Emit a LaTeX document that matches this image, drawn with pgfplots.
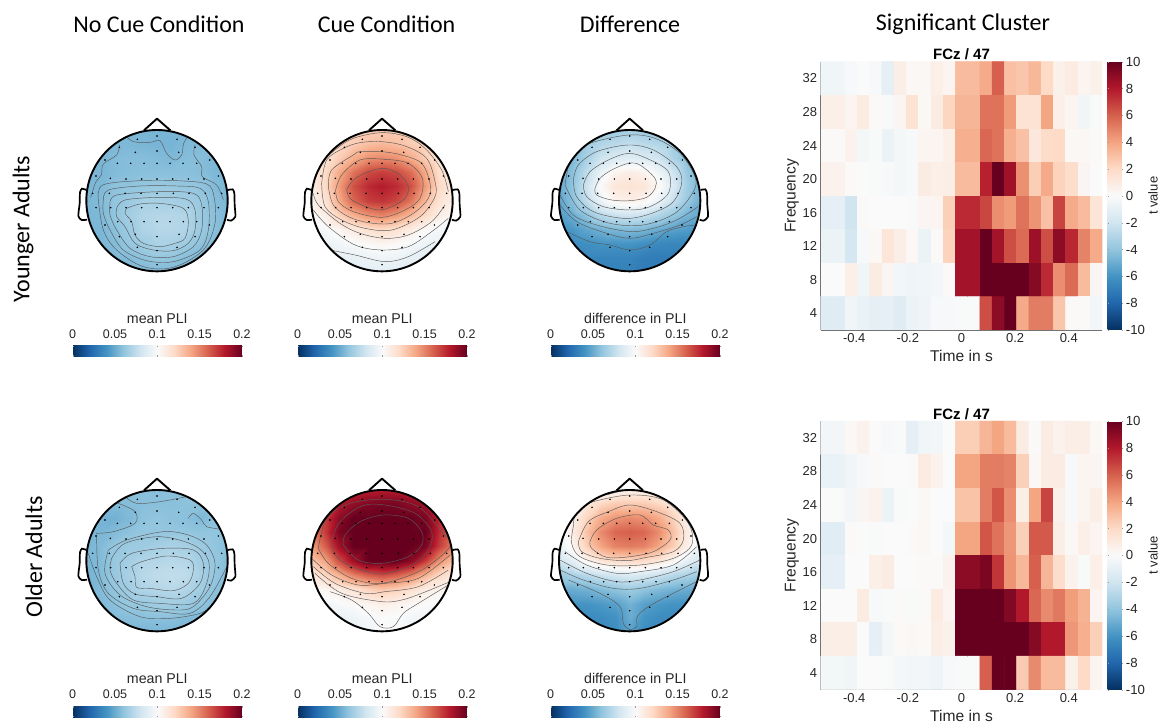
\documentclass[border=0pt]{standalone}
\usepackage{pgfplots}
\pgfplotsset{compat=1.18}
\usepackage{fontspec}
\setmainfont{Liberation Sans}
\newfontfamily\calfont{Carlito}
\definecolor{tx}{HTML}{262626}
\pgfplotsset{
 colormap={rdbu}{rgb255=(5,48,97) rgb255=(33,102,172) rgb255=(67,147,195) rgb255=(146,197,222) rgb255=(209,229,240) rgb255=(250,250,250) rgb255=(253,219,199) rgb255=(244,165,130) rgb255=(214,96,77) rgb255=(178,24,43) rgb255=(103,0,31)},
 colormap name=rdbu,
 ctr/.style={no marks,smooth,tension=0.55,line width=0.45pt,draw=black!65,forget plot},
 /pgf/number format/assume math mode=true
}
\newcommand\ct[1]{\addplot[ctr] coordinates {#1};}
% head outline and electrode dots, x relative to head centre
\newcommand\headshape[1]{%
\addplot[only marks,mark=*,mark size=0.55pt,black,forget plot] table[row sep=\\,header=false,x expr={\thisrowno{0}+#1},y index=1]{
0 78\\-59 88\\60 88\\-113 112\\114 112\\0 123\\-65 127\\65 127\\-156 150\\158 150\\
-119 160\\-79 160\\-39 160\\0 160\\39 160\\78 160\\119 160\\
-183 198\\184 198\\-140 205\\-93 207\\-46 207\\0 207\\47 207\\94 207\\141 207\\
-193 250\\-143 250\\-96 250\\-48 250\\0 250\\49 250\\96 250\\145 250\\194 250\\
-183 293\\-139 293\\-93 293\\-46 293\\0 293\\47 293\\94 293\\141 293\\184 293\\
-156 345\\-118 335\\-78 335\\-39 335\\0 335\\39 335\\79 335\\119 335\\157 345\\
-113 380\\-65 373\\0 380\\66 373\\114 380\\-59 412\\60 412\\0 422\\0 464\\};
\addplot[black,line width=1.9pt,line join=round,forget plot] table[row sep=\\,header=false,x expr={\thisrowno{0}+#1},y index=1]{-39 61\\0 26\\40 61\\};
\addplot[black,line width=1.7pt,smooth,tension=0.4,forget plot] table[row sep=\\,header=false,x expr={\thisrowno{0}+#1},y index=1]{-212 240\\-225 236\\-231 247\\-232 280\\-236 318\\-226 330\\-210 329\\};
\addplot[black,line width=1.7pt,smooth,tension=0.4,forget plot] table[row sep=\\,header=false,x expr={\thisrowno{0}+#1},y index=1]{213 240\\227 238\\232 250\\233 285\\235 320\\222 332\\210 329\\};
}
% #1 abs x of frame, #2 abs y of frame top, #3 cx, #4 colorbar rel x, #5 bar top rel y, #6 title, #7 field, #8 contours
\newcommand\topo[8]{%
\pgfmathsetmacro\xa{#3-250}\pgfmathsetmacro\xb{#3+250}%
\pgfmathsetmacro\ma{#3-226}\pgfmathsetmacro\mb{#3+226}%
\pgfmathsetmacro\py{722-#2-166.67}%
\begin{axis}[at={(#1pt,\py pt)},anchor=south west,scale only axis,width=166.67pt,height=166.67pt,
 xmin=\xa,xmax=\xb,ymin=0,ymax=500,y dir=reverse,axis lines=none,clip=false,
 point meta min=0,point meta max=0.2,
 colorbar horizontal,
 colorbar style={at={(#4,#5)},anchor=north west,scale only axis,width=169.3pt,height=11pt,y dir=normal,
  xtick={0,0.05,0.1,0.15,0.2},xticklabel pos=upper,xticklabels={0,0.05,0.1,0.15,0.2},
  xticklabel style={font=\fontsize{12.5}{14}\selectfont,text=tx,yshift=4pt},
  tick align=inside,major tick length=1.5pt,tick style={black!40,line width=0.25pt},
  axis line style={draw=none},
  title={#6},title style={font=\fontsize{14.2}{16}\selectfont,text=tx,yshift=13pt}}]
\addplot[surf,shader=interp,mesh/cols=11,point meta=explicit,forget plot] table[row sep=\\,header=false,
 x expr={#3-215+43*mod(\coordindex,11)},y expr={57+43*floor((\coordindex+0.5)/11)},meta expr={\thisrowno{0}/100}]{#7};
#8
\fill[white,even odd rule] (axis cs:\ma,46) rectangle (axis cs:\mb,498) (axis cs:#3,272) circle[radius=212];
\headshape{#3}
\draw[black,line width=1.9pt] (axis cs:#3,272) circle[radius=212];
\end{axis}}
% #1 abs y of bottom, #2 height, #3 data
\newcommand\heat[3]{%
\pgfmathsetmacro\py{722-#1}%
\pgfmathsetmacro\pc{722-#1+#2/2}%
\begin{axis}[at={(820.7pt,\py pt)},anchor=south west,scale only axis,width=281.6pt,height=#2pt,
 xmin=-0.525,xmax=0.525,ymin=2,ymax=34,
 axis x line*=bottom,axis y line*=left,axis line style={-,black!55,line width=0.7pt},
 xtick={-0.4,-0.2,0,0.2,0.4},xticklabels={-0.4,-0.2,0,0.2,0.4},ytick={4,8,...,32},
 tick align=inside,major tick length=2.6pt,tick style={black!55,line width=0.5pt},
 ticklabel style={font=\fontsize{13}{14}\selectfont,text=tx},
 xlabel={Time in s},ylabel={Frequency},
 label style={font=\fontsize{15.6}{17}\selectfont,text=tx},
 xlabel style={yshift=-1pt},ylabel style={yshift=-3pt},
 title={\textbf{FCz / 47}},title style={font=\fontsize{15}{17}\selectfont,yshift=-8pt},
 point meta min=-10,point meta max=10,
 colorbar,colorbar style={at={(1.0192,1)},anchor=north west,scale only axis,width=15.6pt,height=#2pt,
  ytick={-10,-8,...,10},yticklabels={-10,-8,-6,-4,-2,0,2,4,6,8,10},yticklabel pos=right,
  yticklabel style={font=\fontsize{13.2}{14}\selectfont,text=tx,xshift=-1pt},
  tick align=inside,major tick length=1.5pt,tick style={black!40,line width=0.25pt},
  axis line style={draw=none}}]
\addplot[matrix plot*,mesh/cols=23,point meta=explicit,forget plot] table[row sep=\\,header=false,
 x expr={-0.50217+0.045652*mod(\coordindex,23)},y expr={32-4*floor((\coordindex+0.5)/23)},meta expr=\thisrowno{0}]{#3};
\end{axis}
\node[rotate=90,font=\fontsize{13}{15}\selectfont,text=tx] at (1153pt,\pc pt) {t value};}
\begin{document}
\begin{tikzpicture}[x=1pt,y=1pt]
\path[use as bounding box] (0,0) rectangle (1161pt,722pt);
\node[font=\calfont\fontsize{24}{26}\selectfont,text=black] at (159pt,697.5pt) {No Cue Condition};
\node[font=\calfont\fontsize{24}{26}\selectfont,text=black] at (386.6pt,697.5pt) {Cue Condition};
\node[font=\calfont\fontsize{24}{26}\selectfont,text=black] at (630pt,697.5pt) {Difference};
\node[font=\calfont\fontsize{24}{26}\selectfont,text=black] at (963pt,697.5pt) {Significant Cluster};
\node[font=\calfont\fontsize{24}{26}\selectfont,text=black,rotate=90] at (23pt,493pt) {Younger Adults};
\node[font=\calfont\fontsize{24}{26}\selectfont,text=black,rotate=90] at (34pt,165pt) {Older Adults};

\topo{73.67}{110}{291}{-0.006}{-0.416}{mean PLI}{%
5.4\\5.4\\5.4\\5.4\\5.4\\5.4\\5.4\\5.4\\5.4\\5.4\\5.4\\
5.4\\5.4\\5.5\\5.5\\5.4\\5.3\\5.3\\5.5\\5.6\\5.6\\5.6\\
5.4\\5.4\\5.6\\5.7\\5.7\\5.6\\5.5\\5.7\\5.7\\5.5\\5.4\\
5.4\\5.4\\5.6\\5.7\\5.8\\5.8\\5.8\\5.8\\5.7\\5.5\\5.4\\
5.4\\5.5\\5.9\\6\\6.1\\6.2\\6.2\\6.1\\6\\5.6\\5.4\\
5.4\\5.6\\6\\6.3\\6.7\\6.7\\6.6\\6.5\\6.2\\5.7\\5.4\\
5.4\\5.5\\6\\6.5\\7\\7.1\\7.1\\7\\6.3\\5.8\\5.4\\
5.4\\5.4\\5.8\\6.3\\6.9\\7.1\\7.1\\7\\6.3\\5.8\\5.4\\
5.4\\5.4\\5.6\\6.1\\6.4\\6.8\\6.7\\6.3\\5.9\\5.6\\5.4\\
5.4\\5.4\\5.5\\5.6\\5.9\\6.1\\6\\5.7\\5.5\\5.4\\5.4\\
5.4\\5.4\\5.4\\5.4\\5.5\\5.6\\5.5\\5.4\\5.4\\5.4\\5.4\\
}{%
\ct{(195,75)(220,95)(270,97)(300,92)(320,130)(345,150)(365,135)(371,100)(385,78)}
\ct{(178,105)(170,135)(130,162)(124,195)(108,215)(92,262)}
\ct{(405,105)(402,135)(425,170)(427,200)(470,225)(490,270)}
\ct{(200,295)(240,282)(300,280)(370,295)(385,335)(375,385)(345,400)(300,410)(250,400)(225,375)(215,335)(195,310)(200,295)}
\ct{(170,295)(195,270)(300,262)(380,268)(405,300)(405,360)(385,400)(340,422)(280,420)(225,400)(195,350)(170,320)(170,295)}
\ct{(150,280)(170,255)(300,245)(400,250)(425,285)(425,360)(400,410)(340,440)(270,440)(210,415)(170,360)(150,315)(150,280)}
\ct{(130,270)(145,240)(240,228)(350,228)(420,235)(445,275)(445,360)(420,420)(340,455)(260,452)(190,420)(150,360)(130,310)(130,270)}
\ct{(115,270)(128,225)(240,212)(350,212)(440,222)(462,260)(465,340)(430,420)(340,472)(250,470)(170,420)(130,360)(115,270)}
}
\topo{298.67}{110}{291}{-0.006}{-0.416}{mean PLI}{%
12.5\\12.5\\12.5\\12.5\\12.5\\12.5\\12.5\\12.5\\12.5\\12.5\\12.5\\
11.5\\11.5\\12\\12.5\\13\\13.2\\13\\12.5\\12\\11.5\\11.5\\
11\\11.5\\12.5\\13.7\\14.6\\14.8\\14.6\\13.7\\12.5\\11.3\\11\\
10.8\\12\\13.8\\15.4\\16.6\\16.9\\16.6\\15.6\\13.8\\11.8\\11\\
10.8\\12\\14.3\\16.4\\17.5\\17.9\\17.5\\16.4\\14.3\\12\\11\\
10.3\\11.5\\13.8\\15.8\\16.9\\17.2\\16.7\\15.3\\13.3\\11.5\\10.7\\
10\\10.7\\12.3\\13.6\\14.6\\15\\14.4\\13.3\\12\\10.8\\10.2\\
9.5\\9.8\\10.4\\11\\11.7\\12\\11.7\\10.9\\10.2\\9.7\\9.5\\
9\\9.2\\9.5\\9.8\\10.1\\10.3\\10.1\\9.7\\9.3\\9.1\\9\\
8.8\\8.8\\9\\9.1\\9.3\\9.4\\9.3\\9\\8.8\\8.7\\8.7\\
8.6\\8.6\\8.6\\8.7\\8.8\\8.8\\8.8\\8.7\\8.6\\8.6\\8.6\\
}{%
\ct{(185,240)(205,210)(250,185)(300,175)(345,195)(370,230)(360,265)(320,290)(280,300)(230,285)(195,265)(185,240)}
\ct{(152,240)(170,195)(225,150)(300,148)(370,160)(412,205)(405,265)(360,300)(290,322)(205,305)(160,275)(152,240)}
\ct{(130,230)(140,180)(205,135)(225,125)(290,125)(350,135)(410,160)(435,220)(430,265)(385,310)(320,340)(250,338)(190,320)(145,285)(130,230)}
\ct{(110,220)(125,150)(175,115)(225,98)(290,95)(360,108)(425,145)(450,215)(450,260)(405,320)(320,360)(240,355)(170,330)(120,290)(110,220)}
\ct{(85,250)(100,285)(165,340)(225,370)(300,385)(370,375)(440,335)(480,285)}
\ct{(85,300)(130,350)(210,405)(290,420)(370,410)(440,365)(490,325)}
\ct{(135,420)(210,435)(300,455)(370,440)(450,395)}
\ct{(85,230)(100,170)(150,120)(205,85)(290,68)(365,80)(420,115)(470,180)(490,245)}
}
\topo{546.33}{110}{269}{0.026}{-0.416}{difference in PLI}{%
6\\6\\6\\6\\6.3\\6.5\\6.3\\6\\6\\6\\6\\
5.5\\5.5\\6.5\\7\\7.2\\7.5\\7.2\\7\\6.5\\5.8\\5.5\\
5\\5.5\\6.8\\8\\8.5\\8.7\\8.5\\8\\6.8\\5.8\\5\\
5\\5.8\\7.5\\9.2\\10.5\\10.8\\10.5\\9.5\\8\\6.2\\5.2\\
4.8\\6\\8\\10.2\\11.3\\11.5\\11.3\\10.3\\8.5\\6.5\\5.2\\
4.6\\5.8\\7.5\\9.3\\10.4\\10.7\\10.3\\9.3\\7.7\\6.2\\5\\
4.3\\5\\6\\7.2\\7.8\\8\\7.8\\7\\6.2\\5.3\\4.8\\
3.8\\4.2\\4.8\\5.2\\5.5\\5.6\\5.4\\5\\4.6\\4.4\\4.2\\
3.5\\3.6\\3.8\\4\\4\\4\\3.8\\3.5\\3.4\\3.4\\3.4\\
3.3\\3.3\\3.4\\3.3\\3.3\\3.3\\3\\3\\3\\3\\3\\
3.2\\3.2\\3.2\\3.2\\3.2\\3.2\\3\\3\\3\\3\\3\\
}{%
\ct{(165,235)(180,205)(215,180)(265,160)(300,165)(345,205)(345,235)(320,262)(270,272)(215,270)(170,255)(165,235)}
\ct{(130,225)(150,185)(205,150)(265,130)(320,145)(385,185)(385,250)(330,290)(270,300)(190,290)(140,260)(130,225)}
\ct{(100,210)(115,165)(170,125)(265,105)(340,120)(410,170)(425,220)(395,280)(320,315)(250,325)(160,305)(110,260)(100,210)}
\ct{(75,225)(95,140)(150,100)(265,75)(345,85)(420,130)(465,200)(460,245)(405,310)(310,345)(210,340)(120,300)(75,225)}
\ct{(60,255)(100,315)(170,345)(270,365)(340,355)(410,330)(475,290)}
\ct{(60,285)(110,335)(200,370)(270,385)(340,370)(420,345)(470,320)}
\ct{(80,365)(150,395)(210,405)(270,420)(330,405)(380,365)(430,350)(470,345)}
\ct{(200,68)(270,60)(340,70)}
}
\topo{73.67}{470}{291}{-0.006}{-0.416}{mean PLI}{%
5.8\\5.8\\5.8\\5.8\\5.8\\5.8\\5.8\\5.8\\5.8\\5.8\\5.8\\
5.6\\5.6\\5.6\\5.7\\5.8\\5.8\\5.8\\5.9\\5.9\\5.8\\5.8\\
5.4\\5.3\\5.2\\5.5\\5.9\\6\\5.9\\5.8\\5.5\\5.8\\5.8\\
5.4\\5.4\\5.6\\5.9\\6.1\\6.1\\6.1\\6.1\\6\\6\\5.8\\
5.4\\5.6\\6.1\\6.3\\6.4\\6.6\\6.8\\6.6\\6.3\\6\\5.7\\
5.4\\5.6\\6.2\\6.6\\7\\7.1\\7.2\\7.1\\6.5\\6.1\\5.6\\
5.2\\5.6\\6.2\\6.7\\7.2\\7.4\\7.5\\7.4\\6.7\\6.1\\5.6\\
5.2\\5.6\\6\\6.4\\6.9\\7.1\\7.2\\7\\6.5\\5.9\\5.6\\
5.4\\5.5\\5.8\\6.1\\6.2\\6.4\\6.5\\6.3\\6\\5.7\\5.4\\
5.4\\5.4\\5.6\\5.7\\5.8\\5.8\\5.8\\5.6\\5.5\\5.4\\5.4\\
5.4\\5.4\\5.4\\5.4\\5.4\\5.4\\5.4\\5.4\\5.4\\5.4\\5.4\\
}{%
\ct{(195,80)(230,100)(300,95)(380,80)}
\ct{(150,95)(175,100)(225,125)(225,160)(160,185)(108,190)}
\ct{(385,145)(400,130)(425,150)(440,170)(485,178)}
\ct{(215,290)(245,275)(320,258)(390,270)(400,300)(385,340)(340,362)(270,355)(230,352)(225,320)(215,290)}
\ct{(180,280)(215,250)(310,235)(400,240)(430,280)(420,340)(365,385)(290,380)(225,372)(190,340)(180,280)}
\ct{(155,265)(195,220)(300,200)(400,225)(445,270)(440,340)(400,400)(300,400)(220,390)(170,340)(150,300)(155,265)}
\ct{(145,240)(200,210)(310,185)(385,195)(440,225)(465,280)(450,350)(400,410)(350,420)(260,410)(180,375)(135,310)(145,240)}
\ct{(110,195)(115,300)(145,370)(220,415)(300,425)(390,430)(450,380)(500,290)}
\ct{(85,250)(110,320)(150,390)(240,440)(330,445)(420,430)(470,400)}
}
\topo{298.67}{470}{291}{-0.006}{-0.416}{mean PLI}{%
17.5\\17.5\\17.5\\17.5\\17.8\\17.8\\17.8\\17.5\\17.5\\17.5\\17.5\\
16\\16.5\\18\\18.8\\19.3\\19.5\\19.5\\19\\18.5\\17\\16\\
15.5\\17\\19\\20.5\\21\\21\\21\\20.5\\19.5\\17.5\\16\\
15\\17\\19.5\\21\\21.5\\21.5\\21.5\\21.5\\20\\17.5\\15.5\\
14\\16\\18.5\\20.5\\21.5\\21.5\\21.5\\21\\19.5\\17\\15\\
12.5\\14\\16.5\\18.5\\20\\20.3\\20\\19\\17\\14.5\\13\\
11\\12\\13.5\\15\\16\\16.5\\16\\15\\13.5\\12\\11.2\\
10\\10.3\\10.8\\11.5\\12.3\\12.8\\12.5\\11.7\\11\\10.5\\10.2\\
9.3\\9.5\\9.8\\10\\10.4\\10.7\\10.5\\10.2\\10\\9.8\\9.7\\
9\\9\\9.2\\9.4\\9.7\\10\\9.9\\9.6\\9.5\\9.5\\9.5\\
9\\9\\9\\9.2\\9.5\\10\\10\\9.5\\9.5\\9.5\\9.5\\
}{%
\ct{(175,225)(180,195)(225,155)(295,135)(370,145)(410,185)(410,225)(370,260)(290,280)(220,270)(175,225)}
\ct{(140,210)(165,155)(230,108)(300,105)(390,130)(440,185)(430,240)(380,285)(290,312)(200,290)(150,255)(140,210)}
\ct{(100,235)(125,145)(195,100)(300,88)(400,110)(475,190)(495,230)(410,300)(290,340)(200,325)(130,280)(100,235)}
\ct{(80,265)(140,315)(220,345)(300,340)(400,325)(495,255)}
\ct{(85,290)(150,340)(240,370)(300,365)(400,350)(490,300)}
\ct{(90,310)(170,370)(290,395)(350,390)(410,370)(495,335)}
\ct{(135,365)(200,390)(250,430)(285,470)(325,470)(355,430)(400,400)(490,345)}
}
\topo{546.33}{470}{269}{0.026}{-0.416}{difference in PLI}{%
9.5\\9.5\\9.5\\9.5\\10\\10.5\\10.5\\10.5\\9.5\\9.5\\9.5\\
9.5\\10\\11.2\\12\\12.5\\12.5\\12.5\\12\\11.2\\10\\9.5\\
9.5\\10.5\\12.3\\13.8\\14.5\\14.8\\14.6\\13.8\\12.3\\10.5\\9.5\\
9.5\\10.8\\13\\14.8\\15.8\\16\\15.8\\14.8\\13\\11\\9.5\\
9\\10.3\\12.5\\14\\15\\15.2\\15\\14\\12.5\\10.7\\9.2\\
8\\8.8\\10.3\\11.3\\11.8\\12\\11.8\\11.3\\10.3\\9\\8\\
6.2\\6.7\\7.2\\7.8\\8.2\\8.5\\8.2\\7.8\\7.2\\6.8\\6.3\\
5\\5\\5.2\\5.6\\6\\6.4\\6\\5.6\\5.2\\5\\5\\
4\\4\\4\\4.2\\4.5\\5.2\\4.5\\4.2\\4\\4\\4\\
3.6\\3.6\\3.6\\3.7\\3.9\\5\\4\\3.7\\3.6\\3.6\\3.6\\
3.6\\3.6\\3.6\\3.6\\3.7\\4.5\\3.7\\3.6\\3.6\\3.6\\3.6\\
}{%
\ct{(150,215)(170,180)(230,145)(300,135)(340,165)(385,180)(390,210)(340,245)(270,260)(200,262)(155,235)(150,215)}
\ct{(115,215)(145,155)(205,125)(270,105)(350,125)(420,160)(430,210)(400,245)(320,262)(260,272)(180,265)(125,245)(115,215)}
\ct{(100,170)(110,120)(160,95)(270,75)(370,90)(445,160)(455,225)(400,265)(300,285)(200,285)(120,260)(95,220)(100,170)}
\ct{(75,245)(140,285)(230,310)(300,305)(400,285)(470,230)}
\ct{(60,270)(140,310)(230,335)(300,330)(400,305)(480,270)}
\ct{(60,300)(130,330)(220,355)(300,355)(400,330)(470,305)}
\ct{(85,330)(180,370)(240,410)(250,460)(268,478)(290,470)(292,440)(325,410)(390,375)(470,335)}
\ct{(200,75)(270,60)(360,75)}
}

\heat{330}{268.3}{%
-.5\\-.5\\-.2\\0\\-.2\\-1\\.8\\.2\\.2\\.7\\.4\\3.2\\3.2\\3.8\\6\\3\\2.8\\3.3\\2\\.6\\1\\.4\\.6\\
.7\\.7\\.4\\1\\.1\\-.1\\.3\\1.5\\.2\\.9\\2.2\\3.4\\3.4\\5.5\\5.5\\4.3\\1.5\\1.5\\4\\.7\\.4\\-.5\\-.1\\
.1\\.1\\.5\\-.3\\-.1\\-.7\\-.3\\-.2\\.4\\.4\\.7\\3.6\\3.6\\5.8\\5.5\\3.6\\3\\1.2\\1.9\\2\\.2\\.2\\.1\\
.5\\.5\\.1\\0\\-.1\\-.2\\-.3\\-.2\\.9\\.7\\.8\\3.2\\3.2\\7.8\\10\\8.5\\4.6\\2.5\\3.8\\2.3\\1.8\\.3\\0\\
-1\\-1\\-2\\.1\\0\\0\\0\\-.1\\.3\\.4\\2.4\\7.5\\7.5\\6.7\\4.7\\4.3\\5.5\\4.5\\3\\6.8\\3.8\\3.2\\1.4\\
-.7\\-.7\\-1.8\\-.2\\.2\\1.3\\.8\\.2\\-.7\\.1\\2.3\\8.4\\8.4\\10\\8.4\\6.5\\5.7\\8.6\\6.5\\9\\7.6\\5\\3.8\\
0\\0\\.7\\-.5\\.9\\.3\\-.4\\-.6\\-.5\\-.4\\.1\\8.4\\8.4\\10\\10\\10\\10\\9.2\\7.5\\4.7\\5.7\\3.2\\.3\\
-1.3\\-1.3\\-.5\\-.8\\-1\\-1\\-1.3\\-.7\\-.6\\-.2\\-.2\\-.1\\-.1\\6.5\\9\\10\\3.8\\5.2\\5.2\\2.8\\.1\\.1\\-.4\\
}
\heat{689.7}{268.7}{%
-.4\\-.4\\.2\\.5\\0\\-.2\\-.1\\-1\\-.5\\-.4\\0\\2.5\\2.5\\3.4\\4\\3.2\\.9\\.1\\.9\\.5\\.8\\.8\\.2\\
-.8\\-.8\\-.5\\-.2\\.1\\0\\0\\.1\\1\\.5\\0\\4\\4\\5.2\\5.2\\5\\2.4\\.2\\.9\\.9\\-.2\\.4\\.3\\
0\\-.1\\-.4\\.3\\.5\\-.7\\-.1\\0\\.2\\0\\0\\2.9\\2.9\\5.2\\6.3\\4.7\\.8\\4\\6.8\\.6\\-.2\\.4\\.8\\
-1.2\\-1.2\\.1\\0\\-.1\\0\\0\\.1\\.2\\0\\-.3\\4\\4\\6.3\\5.5\\4.4\\2.4\\6.2\\6.2\\.8\\.2\\.7\\.4\\
-1\\-1\\0\\0\\.7\\.9\\0\\0\\.1\\.1\\.5\\9\\9\\9.5\\7.2\\4.5\\3.3\\6\\3.4\\1.8\\.5\\-.1\\.7\\
0\\0\\0\\1\\-.2\\-.1\\.1\\-.1\\.1\\1\\.4\\10\\10\\10\\10\\9.3\\8\\5.8\\4.8\\5.3\\4.2\\3.5\\.4\\
.8\\.8\\.8\\0\\-1\\-.3\\.1\\.2\\.1\\.8\\.6\\10\\10\\10\\10\\10\\10\\9.2\\8\\8\\4.4\\3.6\\2.4\\
-.3\\-.3\\-.5\\0\\0\\-.1\\-.3\\-.4\\-.4\\-.6\\-.2\\-.1\\-.1\\6\\10\\10\\2.6\\4.8\\3.2\\3.2\\.6\\2\\.4\\
}
\end{tikzpicture}
\end{document}
